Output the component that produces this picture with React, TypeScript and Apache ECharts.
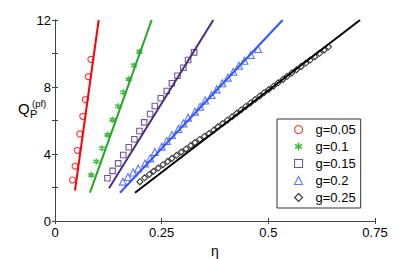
import React, { useEffect, useRef } from "react";
import * as echarts from "echarts";

const seriesNames = ["g=0.05", "g=0.1", "g=0.15", "g=0.2", "g=0.25"];
const colors = ["#ff0000", "#1fa81f", "#4b2c80", "#3355ff", "#000000"];

const pointsG005 = [
  [0.041, 2.45], [0.047, 3.28], [0.052, 4.22], [0.058, 5.2], [0.065, 6.25],
  [0.071, 7.25], [0.078, 8.62], [0.084, 9.65],
];
const pointsG01 = [
  [0.085, 2.75], [0.097, 3.55], [0.11, 4.35], [0.123, 5.15], [0.135, 6.05],
  [0.148, 6.85], [0.16, 7.68], [0.173, 8.48], [0.185, 9.3], [0.198, 10.1],
];
const pointsG015 = [
  [0.123, 2.55], [0.135, 2.99], [0.148, 3.44], [0.16, 3.94], [0.173, 4.4],
  [0.186, 4.88], [0.198, 5.37], [0.209, 5.89], [0.223, 6.39], [0.234, 6.87],
  [0.248, 7.33], [0.262, 7.76], [0.274, 8.22], [0.287, 8.67], [0.301, 9.15],
  [0.312, 9.61], [0.326, 10.07],
];
const pointsG02 = [
  [0.159, 2.35], [0.171, 2.63], [0.183, 2.9], [0.195, 3.13], [0.211, 3.44],
  [0.223, 3.74], [0.234, 4.12], [0.25, 4.44], [0.262, 4.78], [0.274, 5.13],
  [0.289, 5.49], [0.301, 5.83], [0.312, 6.17], [0.328, 6.53], [0.34, 6.82],
  [0.352, 7.19], [0.367, 7.52], [0.379, 7.86], [0.392, 8.22], [0.405, 8.56],
  [0.418, 8.91], [0.431, 9.27], [0.444, 9.57], [0.459, 9.91], [0.476, 10.27],
];
const pointsG025 = [
  [0.199, 2.35], [0.21, 2.58], [0.221, 2.78], [0.231, 2.97], [0.242, 3.16],
  [0.253, 3.36], [0.264, 3.55], [0.274, 3.74], [0.285, 3.92], [0.296, 4.12],
  [0.307, 4.3], [0.318, 4.5], [0.328, 4.68], [0.339, 4.87], [0.35, 5.05],
  [0.361, 5.22], [0.372, 5.42], [0.382, 5.62], [0.393, 5.82], [0.404, 6.02],
  [0.415, 6.22], [0.426, 6.43], [0.436, 6.63], [0.447, 6.84], [0.458, 7.05],
  [0.469, 7.25], [0.48, 7.46], [0.49, 7.66], [0.501, 7.85], [0.512, 8.05],
  [0.523, 8.25], [0.534, 8.45], [0.544, 8.64], [0.555, 8.84], [0.566, 9.03],
  [0.577, 9.23], [0.588, 9.43], [0.598, 9.61], [0.609, 9.81], [0.62, 10.01],
  [0.631, 10.21], [0.641, 10.4],
];

const fitG005 = [[0.0469, 1.81], [0.1024, 12]];
const fitG01 = [[0.082, 1.69], [0.2266, 12]];
const fitG015 = [[0.1266, 1.95], [0.371, 12]];
const fitG02 = [[0.1523, 1.69], [0.5337, 12]];
const fitG025 = [[0.1875, 1.69], [0.715, 12]];

const xTicks = [0, 0.25, 0.5, 0.75];
const yLabelTicks = [0, 4, 8, 12];

const FONT = "'Liberation Sans', Arial, Helvetica, sans-serif";
const STAR = "path://M5,0L5,10M0.67,2.5L9.33,7.5M0.67,7.5L9.33,2.5";

export default function App() {
  const ref = useRef<HTMLDivElement>(null);
  useEffect(() => {
    if (!ref.current) return;
    const chart = echarts.init(ref.current, null, { renderer: "svg" });
    const points = [pointsG005, pointsG01, pointsG015, pointsG02, pointsG025];
    const fits = [fitG005, fitG01, fitG015, fitG02, fitG025];
    const symbols = ["circle", STAR, "rect", "triangle", "diamond"];
    const sizes = [6, 6, 5.5, 7, 6];

    const scatter = seriesNames.map((name, i) => ({
      type: "scatter",
      name,
      data: points[i],
      symbol: symbols[i],
      symbolSize: sizes[i],
      itemStyle: {
        color: i === 1 ? colors[i] : "transparent",
        borderColor: colors[i],
        borderWidth: i === 1 ? 1.6 : 1.1,
      },
      z: 2,
    }));
    const lines = seriesNames.map((name, i) => ({
      type: "line",
      name: name + " fit",
      data: fits[i],
      showSymbol: false,
      symbol: "none",
      lineStyle: { color: colors[i], width: 2 },
      itemStyle: { color: colors[i] },
      z: 3,
    }));

    const axisLine = { show: true, lineStyle: { color: "#444", width: 1 } };
    const tick = { show: true, inside: true, length: 3, lineStyle: { color: "#444" } };

    chart.setOption({
      animation: false,
      grid: {
        left: 55,
        right: 40,
        top: 20,
        bottom: 38,
        containLabel: false,
        outerBoundsMode: "none",
      },
      xAxis: [
        {
          type: "value",
          min: 0,
          max: 0.75,
          interval: 0.25,
          position: "bottom",
          axisLine,
          axisTick: tick,
          splitLine: { show: false },
          axisLabel: {
            color: "#000",
            fontSize: 13,
            fontFamily: FONT,
            margin: 5,
            formatter: (v: number) => (xTicks.includes(v) ? String(v) : ""),
          },
          name: "η",
          nameLocation: "middle",
          nameGap: 22,
          nameTextStyle: { color: "#000", fontSize: 14, fontFamily: FONT },
        },
        {
          type: "value",
          min: 0,
          max: 0.75,
          interval: 0.25,
          position: "top",
          axisLine,
          axisTick: tick,
          splitLine: { show: false },
          axisLabel: { show: false },
        },
      ],
      yAxis: [
        {
          type: "value",
          min: 0,
          max: 12,
          interval: 2,
          position: "left",
          axisLine,
          axisTick: tick,
          splitLine: { show: false },
          axisLabel: {
            color: "#000",
            fontSize: 13,
            fontFamily: FONT,
            margin: 4,
            formatter: (v: number) => (yLabelTicks.includes(v) ? String(v) : ""),
          },
        },
        {
          type: "value",
          min: 0,
          max: 12,
          interval: 2,
          position: "right",
          axisLine,
          axisTick: tick,
          splitLine: { show: false },
          axisLabel: { show: false },
        },
      ],
      legend: {
        orient: "vertical",
        left: 277,
        top: 119,
        padding: [4, 5, 4, 17],
        itemWidth: 8,
        itemHeight: 8,
        itemGap: 4,
        borderColor: "#333",
        borderWidth: 1,
        backgroundColor: "#fff",
        symbolKeepAspect: true,
        textStyle: {
          color: "#000",
          fontSize: 13,
          fontFamily: FONT,
          padding: [0, 0, 0, 8],
        },
        data: seriesNames.map((name, i) => ({
          name,
          icon: symbols[i],
          itemStyle: {
            color: i === 1 ? colors[i] : "transparent",
            borderColor: colors[i],
            borderWidth: i === 1 ? 1.6 : 1.1,
          },
        })),
      },
      graphic: [
        {
          type: "text",
          left: 18,
          top: 101,
          style: { text: "Q", font: `15px ${FONT}`, fill: "#000" },
        },
        {
          type: "text",
          left: 30,
          top: 108,
          style: { text: "P", font: `11px ${FONT}`, fill: "#000" },
        },
        {
          type: "text",
          left: 32,
          top: 98,
          style: { text: "(pf)", font: `9.5px ${FONT}`, fill: "#000" },
        },
      ],
      series: [...scatter, ...lines],
    });
    return () => chart.dispose();
  }, []);
  return (
    <div
      ref={ref}
      style={{ position: "absolute", left: 0, top: 0, width: 415, height: 259 }}
    />
  );
}
